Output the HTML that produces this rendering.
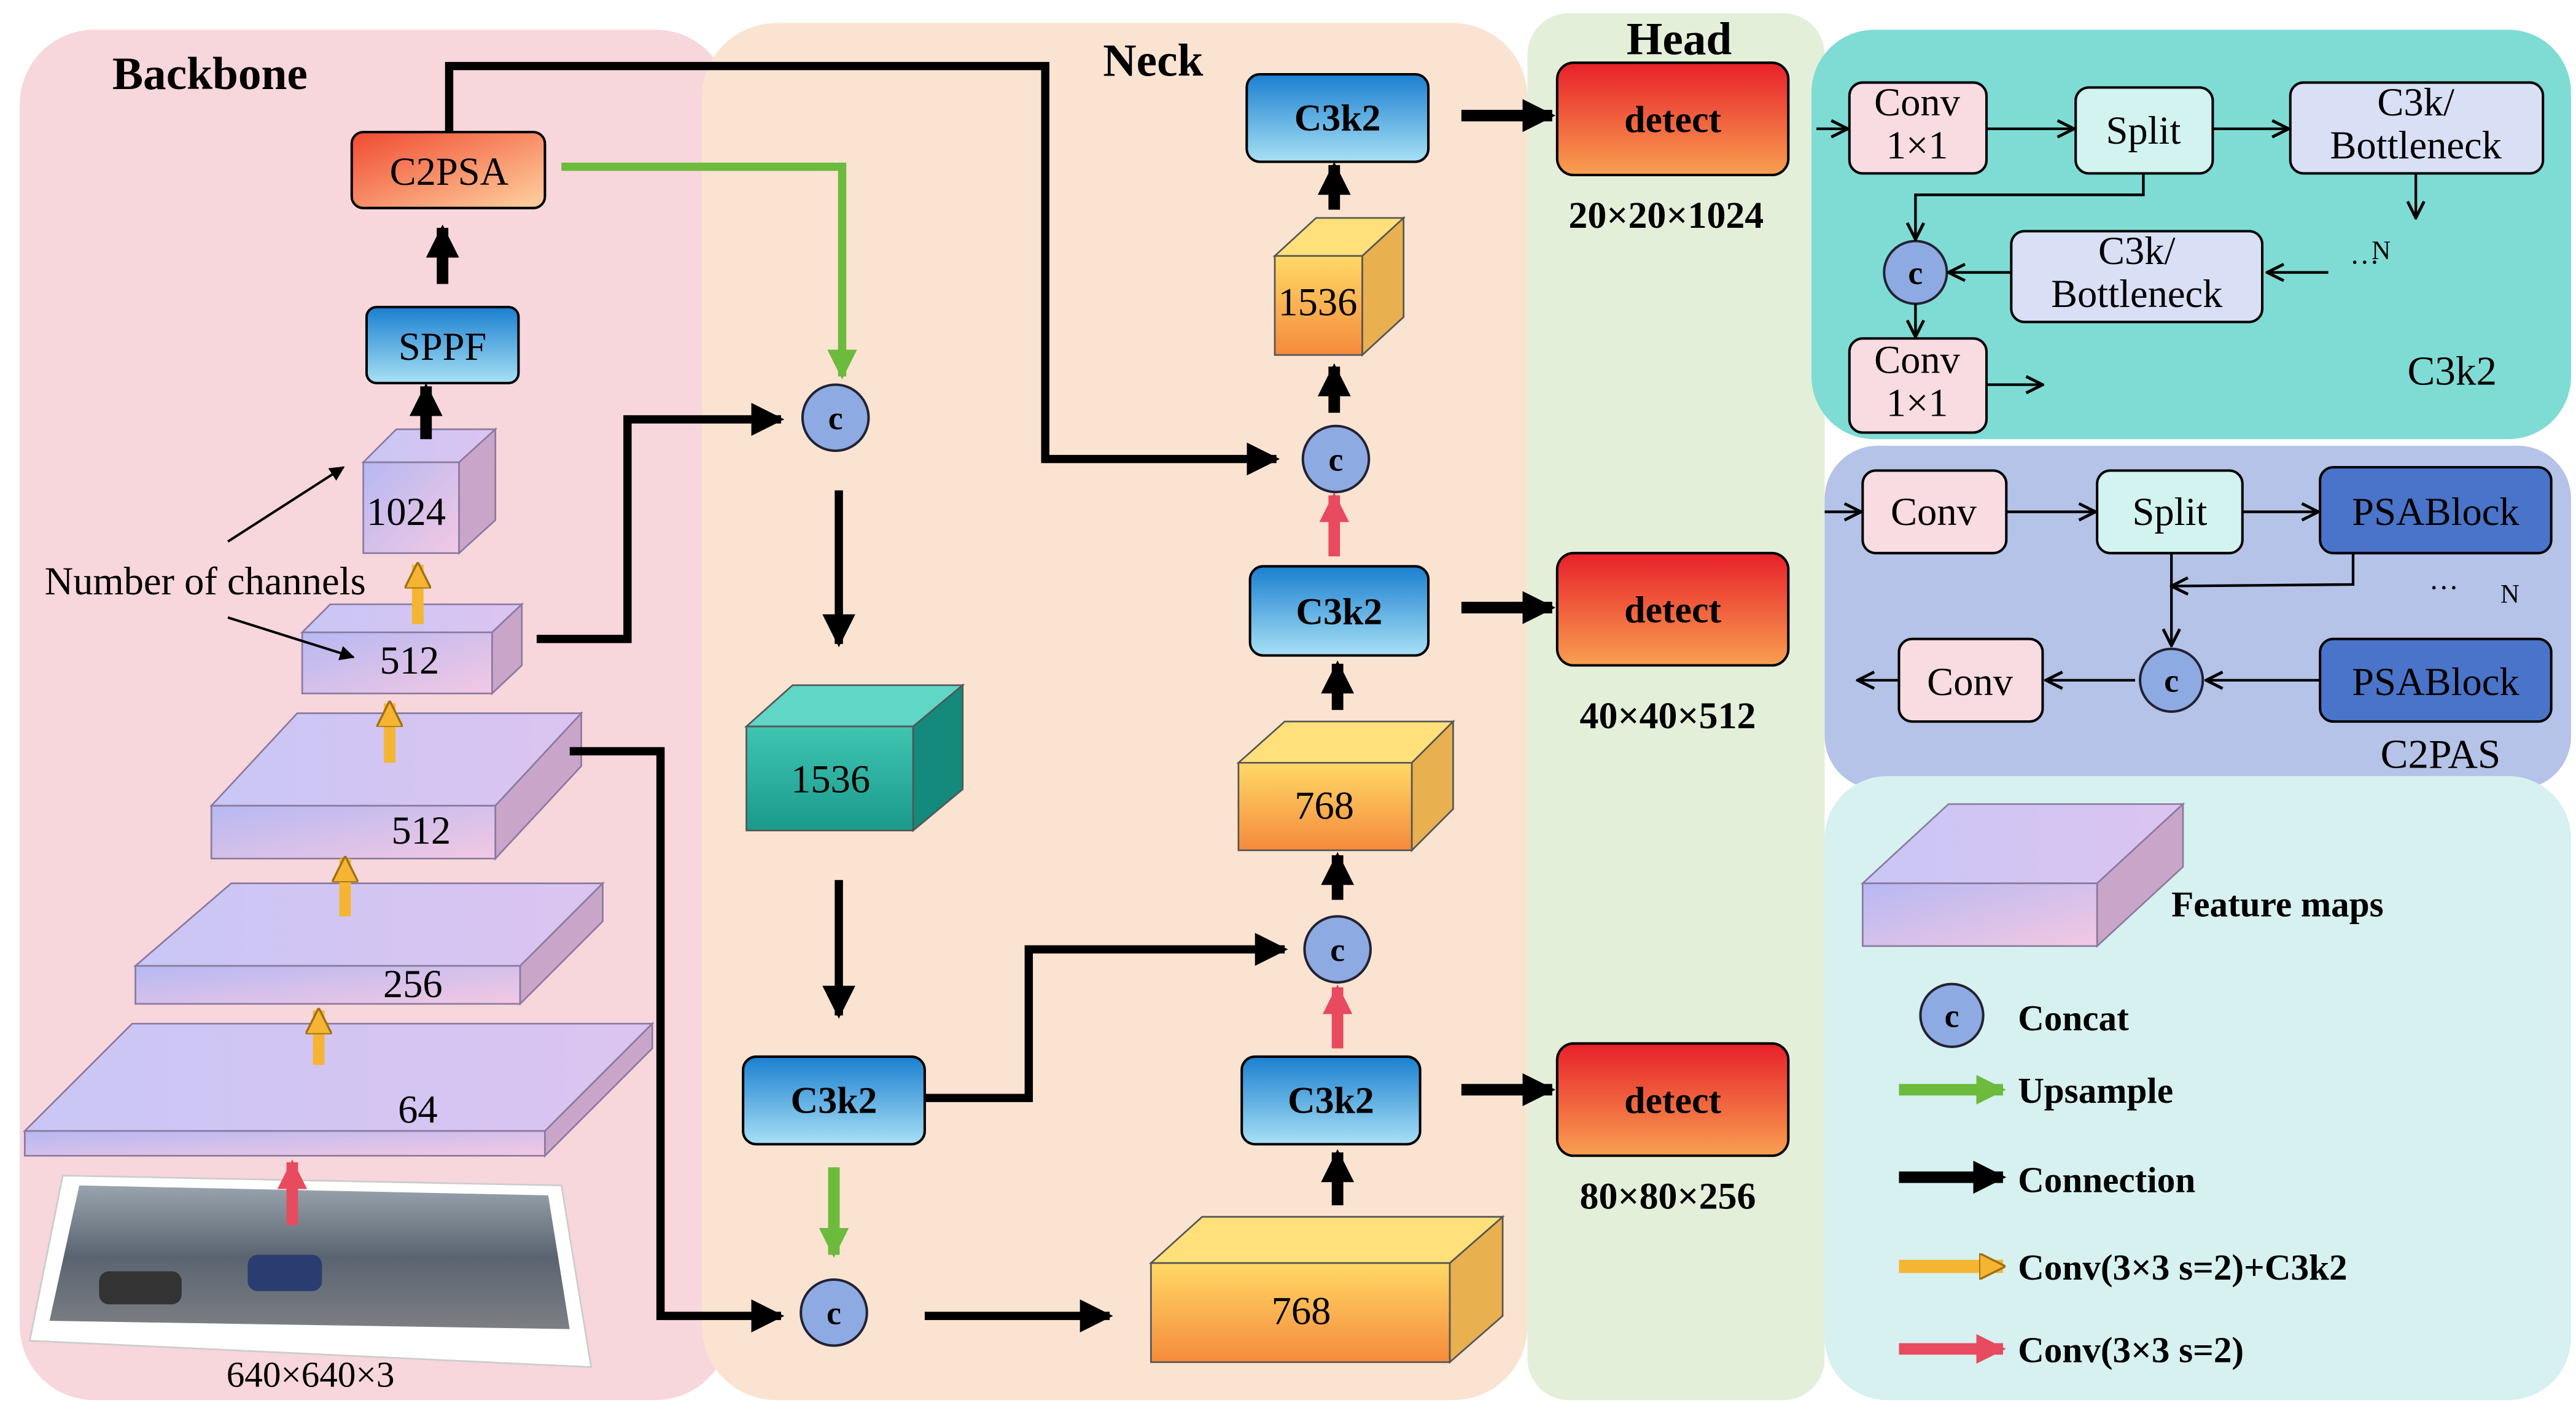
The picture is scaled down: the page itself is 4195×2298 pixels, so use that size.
<!DOCTYPE html>
<html><head><meta charset="utf-8"><style>
html,body{margin:0;padding:0;background:#fff}
svg{display:block}
text{font-family:"Liberation Serif",serif}
</style></head><body>
<svg width="4195" height="2298" viewBox="0 0 1560 854.6" preserveAspectRatio="none" xmlns="http://www.w3.org/2000/svg">
<defs>
<linearGradient id="lav" x1="0" y1="0" x2="1" y2="1"><stop offset="0" stop-color="#b6b8f2"/><stop offset="1" stop-color="#f3c8e3"/></linearGradient>
<linearGradient id="lavtop" x1="0" y1="0" x2="1" y2="0"><stop offset="0" stop-color="#c9c6f5"/><stop offset="1" stop-color="#dcc4f0"/></linearGradient>
<linearGradient id="teal" x1="0" y1="0" x2="0" y2="1"><stop offset="0" stop-color="#3fc5b2"/><stop offset="1" stop-color="#1a9a8c"/></linearGradient>
<linearGradient id="orange2" x1="0" y1="1" x2="0" y2="0"><stop offset="0" stop-color="#f58a3c"/><stop offset="1" stop-color="#ffd966"/></linearGradient>
<linearGradient id="blue" x1="0" y1="0" x2="0" y2="1"><stop offset="0" stop-color="#1a7fd0"/><stop offset="1" stop-color="#a8e0f5"/></linearGradient>
<linearGradient id="red" x1="0" y1="0" x2="0" y2="1"><stop offset="0" stop-color="#e8202a"/><stop offset="1" stop-color="#f8a050"/></linearGradient>
<linearGradient id="c2psa" x1="0" y1="0" x2="1" y2="1"><stop offset="0" stop-color="#f04a30"/><stop offset="1" stop-color="#ffd2a0"/></linearGradient>
<linearGradient id="road" x1="0" y1="0" x2="0" y2="1"><stop offset="0" stop-color="#9aa4ae"/><stop offset="0.5" stop-color="#5a6470"/><stop offset="1" stop-color="#7d7f84"/></linearGradient>
<marker id="ak" viewBox="0 0 10 10" refX="9" refY="5" markerWidth="9" markerHeight="9" markerUnits="userSpaceOnUse" orient="auto"><path d="M0,0L10,5L0,10z" fill="#000"/></marker>
<marker id="akB" viewBox="0 0 10 10" refX="9" refY="5" markerWidth="20" markerHeight="20" markerUnits="userSpaceOnUse" orient="auto"><path d="M0,0L10,5L0,10z" fill="#000"/></marker>
<marker id="akG" viewBox="0 0 10 10" refX="9" refY="5" markerWidth="18" markerHeight="18" markerUnits="userSpaceOnUse" orient="auto"><path d="M0,0L10,5L0,10z" fill="#6cbb3c"/></marker>
<marker id="akR" viewBox="0 0 10 10" refX="9" refY="5" markerWidth="18" markerHeight="18" markerUnits="userSpaceOnUse" orient="auto"><path d="M0,0L10,5L0,10z" fill="#e84a5f"/></marker>
<marker id="akY" viewBox="0 0 10 10" refX="9" refY="5" markerWidth="16" markerHeight="16" markerUnits="userSpaceOnUse" orient="auto"><path d="M0,0L10,5L0,10z" fill="#f5b533" stroke="#a07010" stroke-width="0.8"/></marker>
<marker id="ao" viewBox="0 0 12 12" refX="11" refY="6" markerWidth="12" markerHeight="12" markerUnits="userSpaceOnUse" orient="auto"><path d="M1,1L11,6L1,11" fill="none" stroke="#000" stroke-width="1.8"/></marker>
</defs>

<rect x="12" y="18" width="430" height="830" rx="45" fill="#f7d6dc"/>
<rect x="425" y="14" width="500" height="834" rx="45" fill="#fbe3d2"/>
<rect x="925" y="8" width="180" height="840" rx="25" fill="#e4efd9"/>
<rect x="1097" y="18" width="460" height="248" rx="38" fill="#7fdcd4"/>
<rect x="1105" y="270" width="452" height="208" rx="32" fill="#b4c3e7"/>
<rect x="1105" y="470" width="452" height="378" rx="38" fill="#d6f1ef"/>

<text x="68" y="54" font-size="28" font-weight="bold">Backbone</text>
<text x="668" y="46" font-size="28" font-weight="bold">Neck</text>
<text x="985" y="33" font-size="28" font-weight="bold">Head</text>

<g stroke="#8a7aa0" stroke-width="1">
<polygon points="15,685 330,685 395,620 80,620" fill="url(#lavtop)"/>
<rect x="15" y="685" width="315" height="15" fill="url(#lav)"/>
<polygon points="330,685 395,620 395,635 330,700" fill="#c9a6c9"/>
<polygon points="82,585 315,585 365,535 140,535" fill="url(#lavtop)"/>
<rect x="82" y="585" width="233" height="23" fill="url(#lav)"/>
<polygon points="315,585 365,535 365,558 315,608" fill="#c9a6c9"/>
<polygon points="128,488 300,488 352,432 180,432" fill="url(#lavtop)"/>
<rect x="128" y="488" width="172" height="32" fill="url(#lav)"/>
<polygon points="300,488 352,432 352,464 300,520" fill="#c9a6c9"/>
<polygon points="183,383 298,383 316,366 200,366" fill="url(#lavtop)"/>
<rect x="183" y="383" width="115" height="37" fill="url(#lav)"/>
<polygon points="298,383 316,366 316,403 298,420" fill="#c9a6c9"/>
<polygon points="220,280 278,280 300,260 240,260" fill="url(#lavtop)"/>
<rect x="220" y="280" width="58" height="55" fill="url(#lav)"/>
<polygon points="278,280 300,260 300,315 278,335" fill="#c9a6c9"/>
</g>
<g font-size="24" text-anchor="middle">
<text x="253" y="680">64</text><text x="250" y="604">256</text><text x="255" y="511">512</text><text x="248" y="408">512</text><text x="246" y="318">1024</text>
</g>
<g stroke="#f5b533" stroke-width="7" marker-end="url(#akY)">
<line x1="193" y1="645" x2="193" y2="612"/><line x1="209" y1="555" x2="209" y2="520"/><line x1="236" y1="462" x2="236" y2="426"/><line x1="253" y1="378" x2="253" y2="342"/>
</g>
<polygon points="38,712 340,718 358,828 18,812" fill="#fff" stroke="#ccc"/>
<polygon points="48,718 332,724 345,805 30,800" fill="url(#road)"/>
<rect x="150" y="760" width="45" height="22" rx="6" fill="#2a3d70"/>
<rect x="60" y="770" width="50" height="20" rx="6" fill="#333"/>
<line x1="177" y1="742" x2="177" y2="704" stroke="#e84a5f" stroke-width="7" marker-end="url(#akR)"/>
<text x="188" y="840" font-size="22" text-anchor="middle">640×640×3</text>
<rect x="222" y="186" width="92" height="46" rx="6" fill="url(#blue)" stroke="#000" stroke-width="1.5"/>
<text x="268" y="218" font-size="24" text-anchor="middle">SPPF</text>
<rect x="213" y="80" width="117" height="46" rx="7" fill="url(#c2psa)" stroke="#000" stroke-width="1.5"/>
<text x="272" y="112" font-size="24" text-anchor="middle">C2PSA</text>
<line x1="258" y1="266" x2="258" y2="234" stroke="#000" stroke-width="7" marker-end="url(#akB)"/>
<line x1="268" y1="172" x2="268" y2="138" stroke="#000" stroke-width="7" marker-end="url(#akB)"/>
<text x="27" y="360" font-size="24">Number of channels</text>
<line x1="138" y1="328" x2="208" y2="283" stroke="#000" stroke-width="1.5" marker-end="url(#ak)"/>
<line x1="138" y1="374" x2="214" y2="398" stroke="#000" stroke-width="1.5" marker-end="url(#ak)"/>

<g fill="none" stroke="#000" stroke-width="5">
<polyline points="272,80 272,40 633,40 633,278 773,278" marker-end="url(#akB)"/>
<polyline points="325,387 380,387 380,254 473,254" marker-end="url(#akB)"/>
<polyline points="345,455 400,455 400,797 473,797" marker-end="url(#akB)"/>
<line x1="508" y1="297" x2="508" y2="390" marker-end="url(#akB)"/>
<line x1="508" y1="533" x2="508" y2="615" marker-end="url(#akB)"/>
<line x1="560" y1="797" x2="672" y2="797" marker-end="url(#akB)"/>
<polyline points="560,665 623,665 623,575 778,575" marker-end="url(#akB)"/>
<line x1="885" y1="70" x2="940" y2="70" stroke-width="7" marker-end="url(#akB)"/>
<line x1="885" y1="368" x2="940" y2="368" stroke-width="7" marker-end="url(#akB)"/>
<line x1="885" y1="660" x2="940" y2="660" stroke-width="7" marker-end="url(#akB)"/>
</g>
<polyline points="340,101 510,101 510,228" fill="none" stroke="#6cbb3c" stroke-width="5" marker-end="url(#akG)"/>
<line x1="505" y1="707" x2="505" y2="760" stroke="#6cbb3c" stroke-width="7" marker-end="url(#akG)"/>
<g stroke="#000" stroke-width="7" marker-end="url(#akB)">
<line x1="810" y1="730" x2="810" y2="698"/><line x1="810" y1="545" x2="810" y2="518"/><line x1="810" y1="430" x2="810" y2="402"/><line x1="808" y1="250" x2="808" y2="222"/><line x1="808" y1="127" x2="808" y2="100"/>
</g>
<g stroke="#e84a5f" stroke-width="7" marker-end="url(#akR)">
<line x1="810" y1="635" x2="810" y2="598"/><line x1="808" y1="337" x2="808" y2="300"/>
</g>

<g stroke="#555" stroke-width="1">
<polygon points="452,440 553,440 583,415 480,415" fill="#5fd6c6"/>
<rect x="452" y="440" width="101" height="63" fill="url(#teal)"/>
<polygon points="553,440 583,415 583,478 553,503" fill="#138a7c"/>
<polygon points="697,765 878,765 910,737 728,737" fill="#ffe07a"/>
<rect x="697" y="765" width="181" height="60" fill="url(#orange2)"/>
<polygon points="878,765 910,737 910,797 878,825" fill="#e9b050"/>
<polygon points="750,462 855,462 880,437 778,437" fill="#ffe07a"/>
<rect x="750" y="462" width="105" height="53" fill="url(#orange2)"/>
<polygon points="855,462 880,437 880,490 855,515" fill="#e9b050"/>
<polygon points="772,155 825,155 850,132 797,132" fill="#ffe07a"/>
<rect x="772" y="155" width="53" height="60" fill="url(#orange2)"/>
<polygon points="825,155 850,132 850,192 825,215" fill="#e9b050"/>
</g>
<g font-size="24" text-anchor="middle">
<text x="503" y="480">1536</text><text x="788" y="802">768</text><text x="802" y="496">768</text><text x="798" y="191">1536</text>
</g>
<g stroke="#000" stroke-width="1.5">
<rect x="450" y="640" width="110" height="53" rx="8" fill="url(#blue)"/>
<rect x="752" y="640" width="108" height="53" rx="8" fill="url(#blue)"/>
<rect x="757" y="343" width="108" height="54" rx="8" fill="url(#blue)"/>
<rect x="755" y="45" width="110" height="53" rx="8" fill="url(#blue)"/>
<rect x="943" y="38" width="140" height="68" rx="10" fill="url(#red)"/>
<rect x="943" y="335" width="140" height="68" rx="10" fill="url(#red)"/>
<rect x="943" y="632" width="140" height="68" rx="10" fill="url(#red)"/>
</g>
<g font-size="23" font-weight="bold" text-anchor="middle">
<text x="505" y="674">C3k2</text><text x="806" y="674">C3k2</text><text x="811" y="378">C3k2</text><text x="810" y="79">C3k2</text>
<text x="1013" y="80">detect</text><text x="1013" y="377">detect</text><text x="1013" y="674">detect</text>
<text x="1009" y="138">20×20×1024</text><text x="1010" y="441">40×40×512</text><text x="1010" y="732">80×80×256</text>
</g>
<g fill="#8eaae3" stroke="#223" stroke-width="1.5">
<circle cx="506" cy="253" r="20"/><circle cx="505" cy="795" r="20"/><circle cx="810" cy="575" r="20"/><circle cx="809" cy="278" r="20"/>
<circle cx="1160" cy="165" r="19"/><circle cx="1315" cy="412" r="19"/><circle cx="1182" cy="615" r="19"/>
</g>
<g font-size="20" font-weight="bold" text-anchor="middle">
<text x="506" y="260">c</text><text x="505" y="802">c</text><text x="810" y="582">c</text><text x="809" y="285">c</text>
<text x="1160" y="172">c</text><text x="1315" y="419">c</text><text x="1182" y="622">c</text>
</g>

<g stroke="#000" stroke-width="1.5">
<rect x="1120" y="50" width="83" height="55" rx="8" fill="#f8dce2"/>
<rect x="1257" y="53" width="83" height="52" rx="8" fill="#d3f3f0"/>
<rect x="1387" y="50" width="153" height="55" rx="8" fill="#d9e0f5"/>
<rect x="1218" y="140" width="152" height="55" rx="8" fill="#d9e0f5"/>
<rect x="1120" y="205" width="83" height="57" rx="8" fill="#f8dce2"/>
<rect x="1128" y="285" width="87" height="50" rx="8" fill="#f8dce2"/>
<rect x="1270" y="285" width="88" height="50" rx="8" fill="#d3f3f0"/>
<rect x="1405" y="283" width="140" height="52" rx="8" fill="#4a74c9"/>
<rect x="1405" y="387" width="140" height="50" rx="8" fill="#4a74c9"/>
<rect x="1150" y="387" width="87" height="50" rx="8" fill="#f8dce2"/>
</g>
<g font-size="24" text-anchor="middle">
<text x="1161" y="70">Conv</text><text x="1161" y="96">1×1</text>
<text x="1298" y="87">Split</text>
<text x="1463" y="70">C3k/</text><text x="1463" y="96">Bottleneck</text>
<text x="1294" y="160">C3k/</text><text x="1294" y="186">Bottleneck</text>
<text x="1161" y="226">Conv</text><text x="1161" y="252">1×1</text>
<text x="1485" y="233" font-size="25">C3k2</text>
<text x="1171" y="318">Conv</text><text x="1314" y="318">Split</text><text x="1475" y="318">PSABlock</text>
<text x="1475" y="421">PSABlock</text><text x="1193" y="421">Conv</text>
<text x="1478" y="465" font-size="25">C2PAS</text>
<text x="1432" y="165" font-size="18">···</text><text x="1442" y="157" font-size="16">N</text>
<text x="1480" y="362" font-size="18">···</text><text x="1520" y="365" font-size="16">N</text>
</g>
<g fill="none" stroke="#000" stroke-width="1.6" marker-end="url(#ao)">
<line x1="1100" y1="78" x2="1119" y2="78"/><line x1="1203" y1="78" x2="1256" y2="78"/><line x1="1340" y1="78" x2="1386" y2="78"/>
<line x1="1463" y1="105" x2="1463" y2="132"/>
<polyline points="1298,105 1298,118 1160,118 1160,145"/>
<line x1="1410" y1="165" x2="1373" y2="165"/><line x1="1218" y1="165" x2="1180" y2="165"/>
<line x1="1160" y1="184" x2="1160" y2="204"/><line x1="1203" y1="233" x2="1237" y2="233"/>
<line x1="1105" y1="310" x2="1127" y2="310"/><line x1="1215" y1="310" x2="1269" y2="310"/><line x1="1358" y1="310" x2="1404" y2="310"/>
<polyline points="1425,335 1425,354 1315,355"/>
<line x1="1315" y1="335" x2="1315" y2="391"/>
<line x1="1405" y1="412" x2="1336" y2="412"/><line x1="1293" y1="412" x2="1239" y2="412"/><line x1="1150" y1="412" x2="1125" y2="412"/>
</g>

<g stroke="#8a7aa0">
<polygon points="1128,535 1270,535 1322,487 1180,487" fill="url(#lavtop)"/>
<rect x="1128" y="535" width="142" height="38" fill="url(#lav)"/>
<polygon points="1270,535 1322,487 1322,525 1270,573" fill="#c9a6c9"/>
</g>
<g font-size="22" font-weight="bold">
<text x="1315" y="555">Feature maps</text><text x="1222" y="624">Concat</text><text x="1222" y="668">Upsample</text>
<text x="1222" y="722">Connection</text><text x="1222" y="775">Conv(3×3  s=2)+C3k2</text><text x="1222" y="825">Conv(3×3  s=2)</text>
</g>
<line x1="1150" y1="660" x2="1213" y2="660" stroke="#6cbb3c" stroke-width="7" marker-end="url(#akG)"/>
<line x1="1150" y1="713" x2="1213" y2="713" stroke="#000" stroke-width="7" marker-end="url(#akB)"/>
<line x1="1150" y1="767" x2="1213" y2="767" stroke="#f5b533" stroke-width="8" marker-end="url(#akY)"/>
<line x1="1150" y1="817" x2="1213" y2="817" stroke="#e84a5f" stroke-width="7" marker-end="url(#akR)"/>
</svg>
</body></html>
